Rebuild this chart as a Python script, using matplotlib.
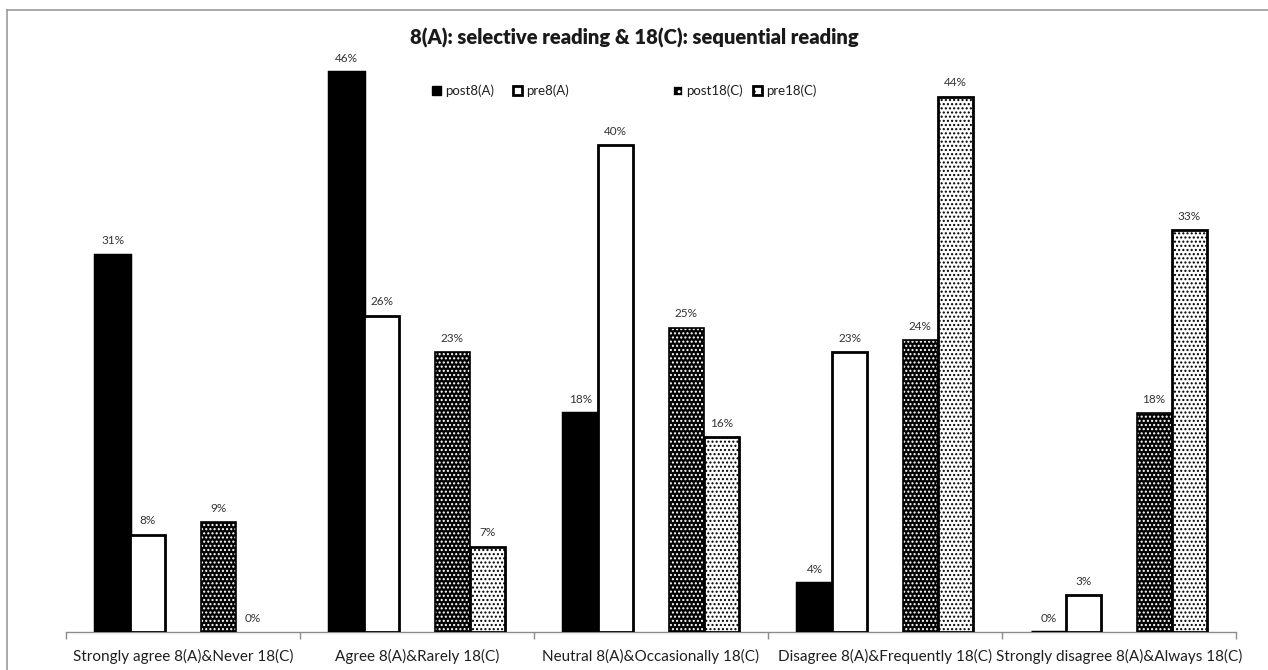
import matplotlib
matplotlib.use("Agg")
import matplotlib.pyplot as plt
import numpy as np
from matplotlib.patches import Rectangle
from matplotlib.lines import Line2D

plt.rcParams['font.family'] = ['Lato', 'DejaVu Sans']

categories = [
    "Strongly agree 8(A)&Never 18(C)",
    "Agree 8(A)&Rarely 18(C)",
    "Neutral 8(A)&Occasionally 18(C)",
    "Disagree 8(A)&Frequently 18(C)",
    "Strongly disagree 8(A)&Always 18(C)",
]
series_names = ["post8(A)", "pre8(A)", "post18(C)", "pre18(C)"]
post8A = [31, 46, 18, 4, 0]
pre8A = [8, 26, 40, 23, 3]
post18C = [9, 23, 25, 24, 18]
pre18C = [0, 7, 16, 44, 33]
title = "8(A): selective reading & 18(C): sequential reading"

W, H = 1268, 670
fig = plt.figure(figsize=(W / 100, H / 100), dpi=100)
ax = fig.add_axes([66 / W, 38 / H, (1236 - 66) / W, (632 - 60) / H])

x = np.arange(len(categories))
w = 0.15
offsets = [-2 * w, -w, w, 2 * w]
label_color = "#333333"

series = [post8A, pre8A, post18C, pre18C]
for i, (vals, off) in enumerate(zip(series, offsets)):
    pos = x + off
    if i == 0:
        ax.bar(pos, vals, w, color="black", edgecolor="black", linewidth=2.5, zorder=3)
    elif i == 1:
        ax.bar(pos, vals, w, color="white", edgecolor="black", linewidth=2.0, zorder=3)
    elif i == 2:
        ax.bar(pos, vals, w, color="black", edgecolor="none", linewidth=0, zorder=3)
        ax.bar(pos, vals, w, color="none", edgecolor="white", hatch="....",
               linewidth=0, zorder=3.1)
        ax.bar(pos, vals, w, color="none", edgecolor="black", linewidth=1.2, zorder=3.2)
    else:
        ax.bar(pos, vals, w, color="white", edgecolor="black", hatch="....",
               linewidth=0, zorder=3)
        ax.bar(pos, [v if v > 0 else np.nan for v in vals], w, color="none",
               edgecolor="black", linewidth=2.0, zorder=3.2)
    for p, v in zip(pos, vals):
        ax.annotate(f"{v}%", (p, v), xytext=(0, 6), textcoords="offset points",
                    ha="center", va="bottom", fontsize=8.5, color=label_color)

ax.set_xlim(-0.5, len(categories) - 0.5)
ax.set_ylim(0, 47)
ax.set_yticks([])
for s in ["top", "right", "left"]:
    ax.spines[s].set_visible(False)
ax.spines["bottom"].set_color("#8c8c8c")
ax.spines["bottom"].set_linewidth(1.0)
ax.set_xticks(x)
ax.set_xticklabels(categories, fontsize=11, color="#1f1f1f")
ax.tick_params(axis="x", which="major", length=0, pad=12)
ax.set_xticks(np.arange(-0.5, len(categories), 1.0), minor=True)
ax.tick_params(axis="x", which="minor", length=5, color="#8c8c8c", width=1.0)

fig.text(0.5, 1 - 38 / H, title, ha="center", va="center", fontsize=14.5,
         fontweight="heavy", color="#1a1a1a")

# legend entries, each anchored at its own position
handles = [
    Rectangle((0, 0), 1, 1, facecolor="black", edgecolor="black"),
    Rectangle((0, 0), 1, 1, facecolor="white", edgecolor="black", linewidth=2),
    Rectangle((0, 0), 1, 1, facecolor="black", edgecolor="white", hatch="..", linewidth=0.5),
    Rectangle((0, 0), 1, 1, facecolor="white", edgecolor="black", hatch="..", linewidth=2),
]
legend_x = [432, 513, 673, 753]
for hnd, name, lx in zip(handles, series_names, legend_x):
    leg = fig.legend([hnd], [name], loc="center left",
                     bbox_to_anchor=(lx / W, 1 - 91 / H), frameon=False,
                     fontsize=9.5, handlelength=0.7, handleheight=0.7,
                     handletextpad=0.3, borderpad=0, borderaxespad=0)
    for t in leg.get_texts():
        t.set_color("#1f1f1f")

# chart frame (top and left edges)
fig.add_artist(Line2D([7 / W, 1], [1 - 10 / H, 1 - 10 / H], color="#9a9a9a", linewidth=1.2))
fig.add_artist(Line2D([7 / W, 7 / W], [0, 1 - 10 / H], color="#9a9a9a", linewidth=1.2))

fig.savefig("out.png", dpi=100)
